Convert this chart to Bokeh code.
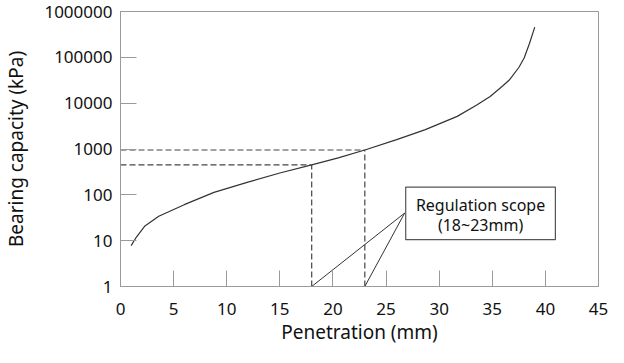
from bokeh.plotting import figure
from bokeh.embed import file_html
from bokeh.resources import INLINE
from bokeh.models import FixedTicker, NumeralTickFormatter, Range1d
from bokeh.core.properties import value

# Data
penetration = [1, 1.5, 2.3, 3.6, 6, 8.8, 12, 15, 18, 20.5, 23, 26, 28.7, 31.7, 33.5, 34.8, 36, 36.6, 37.5, 38, 38.5, 39]
bearing = [7.8, 12, 21, 34, 61, 113, 190, 300, 450, 640, 950, 1600, 2650, 5150, 9000, 14000, 24000, 32000, 60000, 97000, 200000, 455000]

x_ticks = [0, 5, 10, 15, 20, 25, 30, 35, 40, 45]
y_ticks = [1, 10, 100, 1000, 10000, 100000, 1000000]

scope_x = [18, 23]
scope_y = [450, 950]

label_lines = ["Regulation scope", "(18~23mm)"]

FONT = "Noto Sans"
GREY = "#9a9a9a"
INK = "#333333"

p = figure(width=608, height=347, y_axis_type="log",
           x_range=Range1d(0, 45), y_range=Range1d(1, 1000000),
           output_backend="svg", toolbar_location=None,
           min_border_left=111, min_border_right=10, min_border_top=11, min_border_bottom=53)

p.grid.visible = False
p.outline_line_color = GREY
p.outline_line_width = 1
p.background_fill_color = "white"
p.border_fill_color = "white"

for ax in (p.xaxis[0], p.yaxis[0]):
    ax.axis_line_color = GREY
    ax.major_tick_line_color = GREY
    ax.major_tick_in = 16
    ax.major_tick_out = 0
    ax.minor_tick_line_color = None
    ax.major_label_text_font = FONT
    ax.major_label_text_font_size = "17px"
    ax.major_label_text_color = "#111111"
    ax.axis_label_text_font = FONT
    ax.axis_label_text_font_size = "19px"
    ax.axis_label_text_font_style = "normal"
    ax.axis_label_text_color = "#111111"

p.xaxis.ticker = FixedTicker(ticks=x_ticks)
p.yaxis.ticker = FixedTicker(ticks=y_ticks)
p.yaxis.formatter = NumeralTickFormatter(format="0")
p.xaxis.axis_label = "Penetration (mm)"
p.yaxis.axis_label = "Bearing capacity (kPa)"
p.xaxis.major_label_standoff = 16
p.yaxis.major_label_standoff = 8
p.xaxis.axis_label_standoff = 1
p.yaxis.axis_label_standoff = 12

# main curve
p.line(penetration, bearing, line_color=INK, line_width=1.2)

# dashed guide lines
for sx, sy in zip(scope_x, scope_y):
    p.line([0, sx], [sy, sy], line_color="#444444", line_dash="6 3", line_width=1.2)
    p.line([sx, sx], [1, sy], line_color="#444444", line_dash="6 3", line_width=1.2)

# callout box
box_left, box_right, box_bottom, box_top = 26.85, 40.94, 10.5, 148
apex_x, apex_y = 26.75, 40
for sx in scope_x:
    p.line([sx, apex_x], [1, apex_y], line_color=INK, line_width=1)
p.quad(left=[box_left], right=[box_right], bottom=[box_bottom], top=[box_top],
       fill_color="white", line_color="#555555", line_width=1.2)
p.text(x=[(box_left + box_right) / 2] * 2, y=[60, 22], text=label_lines,
       text_font=value(FONT), text_font_size="16px", text_color="#111111",
       text_align="center", text_baseline="middle")

open("out.html", "w").write(file_html(p, INLINE))
